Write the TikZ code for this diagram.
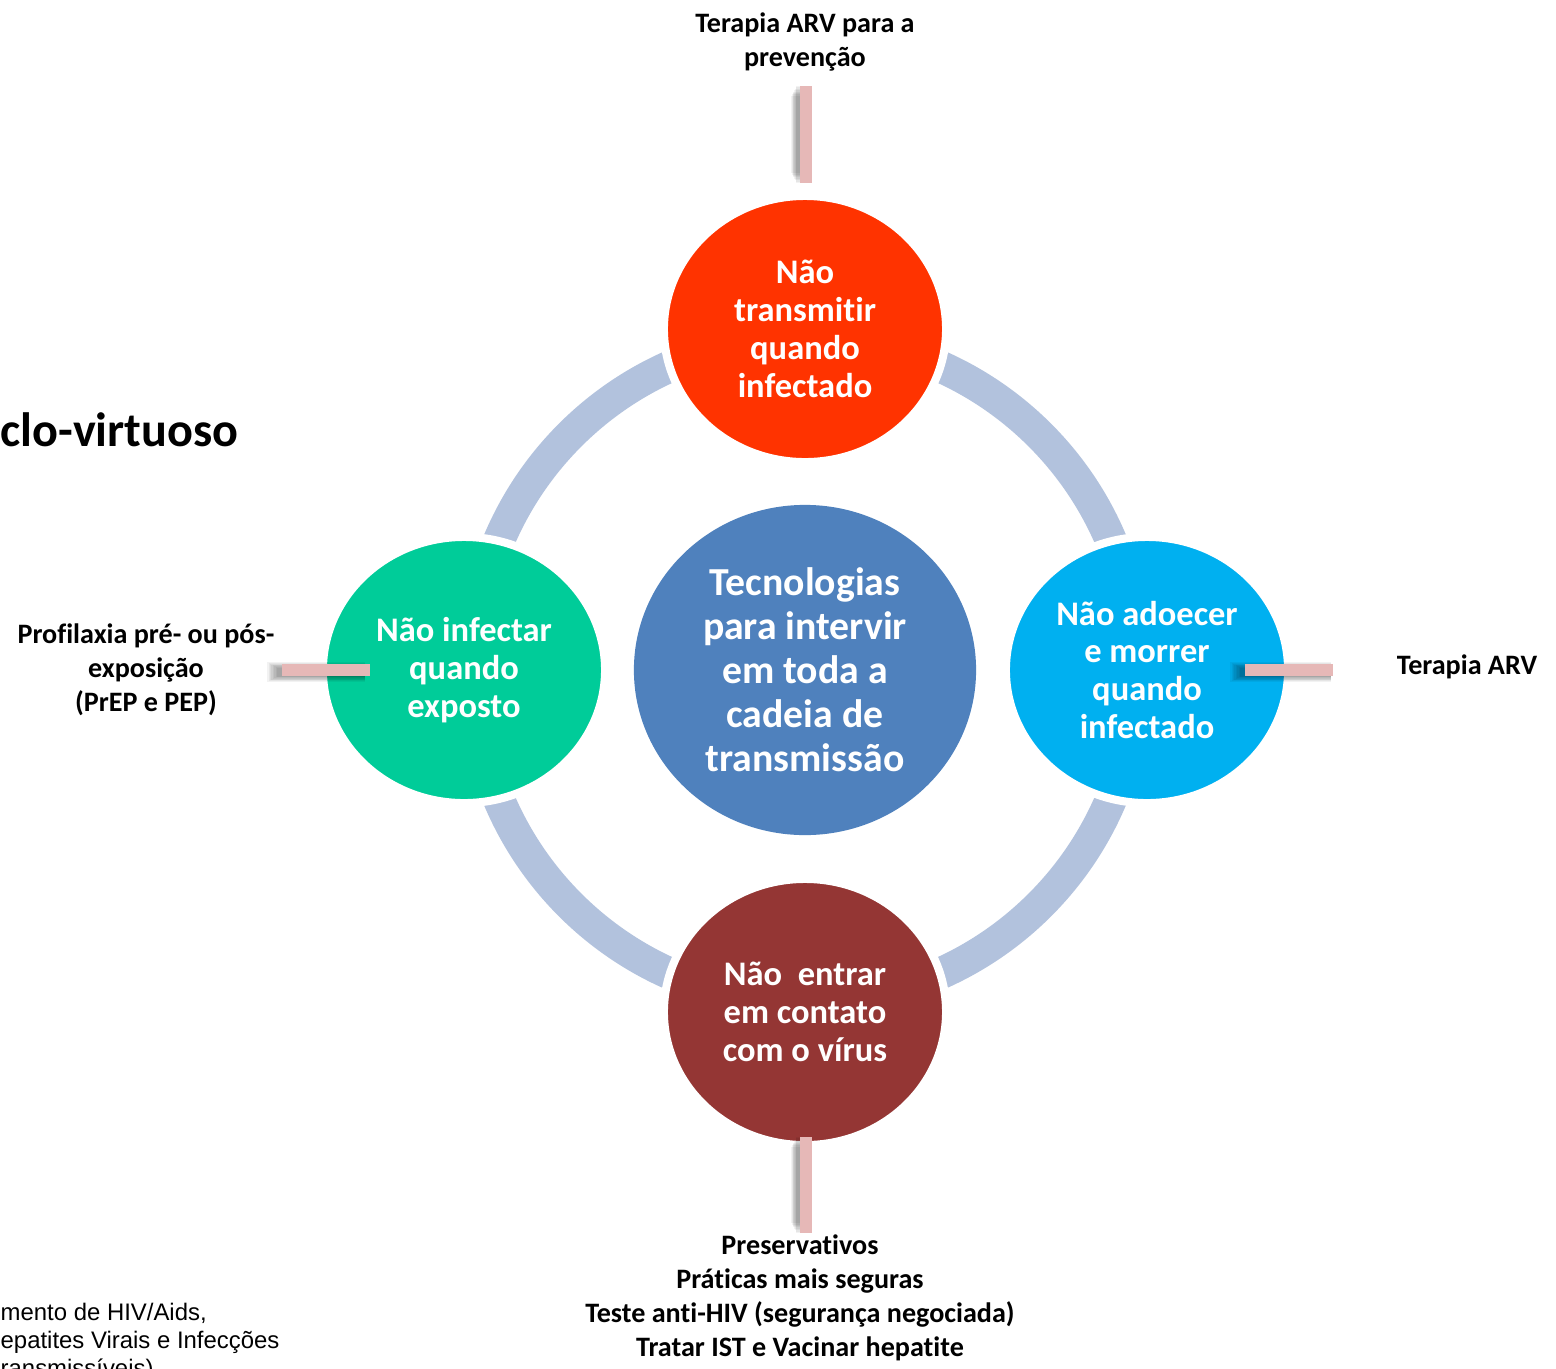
\documentclass[tikz,border=0pt]{standalone}
\usepackage{fontspec}
\setmainfont{Carlito}[Ligatures={NoCommon}]
\newfontfamily\arialf{Liberation Sans}
\usetikzlibrary{shapes.geometric}
\definecolor{ringc}{HTML}{B2C2DD}
\definecolor{topc}{HTML}{FF3300}
\definecolor{leftc}{HTML}{00CC99}
\definecolor{rightc}{HTML}{00B0F0}
\definecolor{botc}{HTML}{943634}
\definecolor{cenc}{HTML}{4F81BD}
\definecolor{pinkc}{HTML}{E6B8B7}
\tikzset{
  sat/.style={ellipse, inner sep=0pt, minimum width=2.82cm, minimum height=2.66cm,
    draw=white, line width=2.3pt, text=white, align=center,
    font=\bfseries\fontsize{9.8pt}{10.8pt}\selectfont},
  cen/.style={ellipse, inner sep=0pt, minimum width=3.42cm, minimum height=3.30cm,
    fill=cenc, text=white, align=center,
    font=\bfseries\fontsize{11.3pt}{12.5pt}\selectfont},
  lab/.style={inner sep=0pt, align=center, text=black,
    font=\bfseries\fontsize{8.0pt}{9.7pt}\selectfont},
  pinkbar/.style={draw=pinkc, line width=0.12cm},
  shad/.style={draw=black, opacity=0.05},
}
\begin{document}
\begin{tikzpicture}[x=0.01cm,y=-0.01cm]
\clip (0,0) rectangle (1556,1369);
\fill[white] (0,0) rectangle (1556,1369);
% ring
\draw[ringc, line width=0.32cm] (805,670) circle [radius=3.32cm];
% center
\node[cen] (c) at (805,670) {Tecnologias\\para intervir\\em toda a\\cadeia de\\transmissão};
% satellites
\node[sat, fill=topc] (t) at (805,329) {Não\\transmitir\\quando\\infectado};
\node[sat, fill=leftc] (l) at (464,670) {Não infectar\\quando\\exposto};
\node[sat, fill=rightc] (r) at (1147,670) {Não adoecer\\e morrer\\quando\\infectado};
\node[sat, fill=botc] (b) at (805,1012) {Não\ \ entrar\\em contato\\com o vírus};
% pink connector coordinates
\coordinate (t1) at (806,86);  \coordinate (t2) at (806,183);
\coordinate (l1) at (282,670); \coordinate (l2) at (370,670);
\coordinate (r1) at (1245,670); \coordinate (r2) at (1333,670);
\coordinate (b1) at (806,1137); \coordinate (b2) at (806,1233);
% soft shadows (offset to the left)
\foreach \w/\e in {0.09/0,0.105/0.4,0.12/0.8,0.135/1.2,0.15/1.6,0.165/2,0.18/2.4,0.195/2.8}{
  \draw[shad, line width=\w cm] ([xshift=-0.05cm,yshift=-\e pt]t1) -- ([xshift=-0.05cm,yshift=\e pt]t2);
  \draw[shad, line width=\w cm] ([xshift=-0.05cm-\e pt,yshift=-0.02cm]l1) -- ([xshift=-0.05cm,yshift=-0.02cm]l2);
  \draw[shad, line width=\w cm] ([xshift=-0.05cm-\e pt,yshift=-0.02cm]r1) -- ([xshift=-0.02cm,yshift=-0.02cm]r2);
  \draw[shad, line width=\w cm] ([xshift=-0.05cm,yshift=-\e pt]b1) -- ([xshift=-0.05cm,yshift=\e pt]b2);
}
\draw[pinkbar] (t1) -- (t2);
\draw[pinkbar] (l1) -- (l2);
\draw[pinkbar] (r1) -- (r2);
\draw[pinkbar] (b1) -- (b2);
% labels
\node[lab] (lt) at (805,42) {Terapia ARV para a\\prevenção};
\node[lab] (ll) at (146,670) {Profilaxia pré- ou pós-\\exposição\\(PrEP e PEP)};
\node[lab] (lr) at (1467,667) {Terapia ARV};
\node[lab] (lb) at (800,1298) {Preservativos\\Práticas mais seguras\\Teste anti-HIV (segurança negociada)\\Tratar IST e Vacinar hepatite};
\node[inner sep=0pt, anchor=west, font=\bfseries\fontsize{13.7pt}{15pt}\selectfont] (title) at (0,430) {clo-virtuoso};
\node[inner sep=0pt, anchor=west, align=left, font=\arialf\fontsize{6.8pt}{8pt}\selectfont] (src) at (0,1342) {mento de HIV/Aids,\\epatites Virais e Infecções\\ransmissíveis)};
\end{tikzpicture}
\end{document}
